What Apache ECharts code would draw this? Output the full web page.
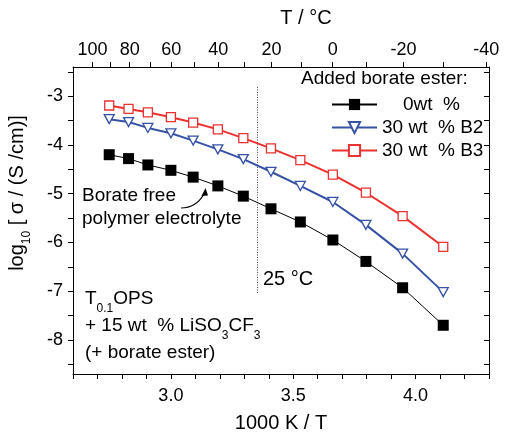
<!DOCTYPE html>
<html>
<head>
<meta charset="utf-8">
<script src="https://cdn.jsdelivr.net/npm/echarts@6/dist/echarts.min.js"></script>
<style>
  html, body { margin: 0; padding: 0; background: #fff; }
  #chart { width: 505px; height: 434px; }
</style>
</head>
<body>
<div id="chart"></div>
<script>
// Inverse temperature of each measurement, 1000 K / T
const invT = [2.748, 2.827, 2.906, 3.000, 3.091, 3.192, 3.296, 3.409, 3.529, 3.662, 3.797, 3.947, 4.113];
// log10 of ionic conductivity in S/cm for each electrolyte
const cond0wt = [-4.20, -4.28, -4.41, -4.52, -4.66, -4.84, -5.05, -5.31, -5.58, -5.95, -6.39, -6.93, -7.70];
const condB2 = [-3.47, -3.53, -3.65, -3.76, -3.91, -4.09, -4.29, -4.55, -4.84, -5.17, -5.64, -6.23, -7.02];
const condB3 = [-3.19, -3.26, -3.33, -3.43, -3.54, -3.68, -3.86, -4.07, -4.31, -4.61, -4.98, -5.46, -6.09];
const seriesNames = ['0wt  %', '30 wt  % B2', '30 wt  % B3'];

// Axis ticks and labels
const xLabels = [3.0, 3.5, 4.0];
const xTicks = [2.6, 2.7, 2.8, 2.9, 3.0, 3.1, 3.2, 3.3, 3.4, 3.5, 3.6, 3.7, 3.8, 3.9, 4.0, 4.1, 4.2, 4.3];
const yLabels = [-8, -7, -6, -5, -4, -3];
const yTicks = [-8.5, -8, -7.5, -7, -6.5, -6, -5.5, -5, -4.5, -4, -3.5, -3, -2.5];
const tempLabels = [100, 80, 60, 40, 20, 0, -20, -40];           // °C
const tempTicks = [100, 90, 80, 70, 60, 50, 40, 30, 20, 10, 0, -10, -20, -30, -40];
const roomTemp = 25;                 // °C, dotted reference line
const roomLineSpan = [-2.81, -7.04]; // vertical extent of that line

const BLUE = '#3652a6';
const RED = '#ec3030';
const FONT = '"Liberation Sans", Arial, sans-serif';

// Celsius -> 1000 K / T for the top temperature scale
const toInv = t => 1000 / (t + 273.15);
const pairs = ys => invT.map((x, i) => [x, ys[i]]);

const chart = echarts.init(document.getElementById('chart'), null, { renderer: 'canvas' });

const axisLine = { show: true, onZero: false, lineStyle: { color: '#000', width: 1 } };
const subStyle = (pad) => ({ fontSize: 12, fontFamily: FONT, color: '#000', verticalAlign: 'top', padding: [pad, 0, 0, 0] });
const mainStyle = (size) => ({ fontSize: size, fontFamily: FONT, color: '#000', verticalAlign: 'top' });

const option = {
  animation: false,
  backgroundColor: '#fff',
  grid: { left: 73, top: 67, width: 416, height: 307, containLabel: false },
  xAxis: [
    {
      type: 'value', position: 'bottom', min: 2.6, max: 4.3,
      axisLine: axisLine,
      axisTick: { show: true, inside: false, length: 5, customValues: xTicks, lineStyle: { color: '#000' } },
      axisLabel: { customValues: xLabels, margin: 13, fontSize: 18, fontFamily: FONT, color: '#000',
                   formatter: v => v.toFixed(1) },
      splitLine: { show: false }
    },
    {
      type: 'value', position: 'top', min: 2.6, max: 4.3,
      axisLine: axisLine,
      axisTick: { show: true, inside: false, length: 5, customValues: tempTicks.map(toInv), lineStyle: { color: '#000' } },
      axisLabel: { customValues: tempLabels.map(toInv), margin: 8, fontSize: 18, fontFamily: FONT, color: '#000',
                   formatter: v => String(Math.round(1000 / v - 273.15)) },
      splitLine: { show: false }
    }
  ],
  yAxis: [
    {
      type: 'value', position: 'left', min: -8.7, max: -2.4,
      axisLine: axisLine,
      axisTick: { show: true, inside: false, length: 5, customValues: yTicks, lineStyle: { color: '#000' } },
      axisLabel: { customValues: yLabels, margin: 10, fontSize: 18, fontFamily: FONT, color: '#000' },
      splitLine: { show: false }
    },
    {
      type: 'value', position: 'right', min: -8.7, max: -2.4,
      axisLine: axisLine,
      axisTick: { show: true, inside: true, length: 5, customValues: yTicks, lineStyle: { color: '#000' } },
      axisLabel: { show: false },
      splitLine: { show: false }
    }
  ],
  legend: {
    data: seriesNames,
    orient: 'vertical',
    left: 331, top: 95,
    padding: 0,
    itemWidth: 45, itemHeight: 14, itemGap: 4,
    textStyle: { fontSize: 19, fontFamily: FONT, color: '#000',
      rich: { first: { fontSize: 19, fontFamily: FONT, color: '#000', padding: [0, 0, 0, 21] } } },
    formatter: name => name === seriesNames[0] ? '{first|' + name + '}' : name,
    selectedMode: false
  },
  series: [
    {
      name: seriesNames[0], type: 'line', data: pairs(cond0wt),
      symbol: 'rect', symbolSize: 11,
      itemStyle: { color: '#000' },
      lineStyle: { color: '#000', width: 1 },
      z: 4
    },
    {
      name: seriesNames[1], type: 'line', data: pairs(condB2),
      symbol: 'triangle', symbolRotate: 180, symbolSize: [10, 9],
      itemStyle: { color: '#fff', borderColor: BLUE, borderWidth: 1.3 },
      lineStyle: { color: BLUE, width: 2 },
      z: 3
    },
    {
      name: seriesNames[2], type: 'line', data: pairs(condB3),
      symbol: 'rect', symbolSize: 9,
      itemStyle: { color: '#fff', borderColor: RED, borderWidth: 1.3 },
      lineStyle: { color: RED, width: 2 },
      z: 3
    },
    {
      name: 'room temperature', type: 'line',
      data: roomLineSpan.map(y => [toInv(roomTemp), y]),
      symbol: 'none', silent: true,
      lineStyle: { color: '#444', width: 1, type: [1, 1.5] },
      z: 1
    }
  ],
  graphic: [
    { type: 'text', x: 306, y: 8, style: { text: 'T / °C', font: '20px ' + FONT, fill: '#000', align: 'center', verticalAlign: 'top' } },
    { type: 'text', x: 281, y: 413, style: { text: '1000 K / T', font: '20px ' + FONT, fill: '#000', align: 'center', verticalAlign: 'top' } },
    {
      type: 'text', x: 20, y: 193, rotation: Math.PI / 2,
      style: {
        text: '{m|log}{s|10}{m| [ σ / (S /cm)]}',
        align: 'center', verticalAlign: 'middle',
        rich: { m: mainStyle(20), s: subStyle(13) }
      }
    },
    { type: 'text', x: 301, y: 69, style: { text: 'Added borate ester:', font: '19px ' + FONT, fill: '#000', align: 'left', verticalAlign: 'top' } },
    { type: 'text', x: 263, y: 269, style: { text: '25 °C', font: '20px ' + FONT, fill: '#000', align: 'left', verticalAlign: 'top' } },
    {
      type: 'text', x: 82, y: 184,
      style: { text: 'Borate free\npolymer electrolyte', font: '19px ' + FONT, fill: '#000', lineHeight: 23, align: 'left', verticalAlign: 'top' }
    },
    {
      type: 'bezierCurve', silent: true,
      shape: { x1: 181, y1: 208, x2: 204, y2: 194, cpx1: 196, cpy1: 208 },
      style: { stroke: '#000', lineWidth: 1.2, fill: null }
    },
    {
      type: 'polygon', silent: true,
      shape: { points: [[205.5, 188], [201.5, 196], [208, 195.5]] },
      style: { fill: '#000' }
    },
    {
      type: 'text', x: 85, y: 289,
      style: {
        text: '{m|T}{s|0.1}{m|OPS}\n{m|+ 15 wt  % LiSO}{s|3}{m|CF}{s|3}\n{m|(+ borate ester)}',
        rich: { m: Object.assign(mainStyle(19), { lineHeight: 27 }), s: Object.assign(subStyle(14), { lineHeight: 27 }) }
      }
    }
  ]
};

chart.setOption(option);
</script>
</body>
</html>
